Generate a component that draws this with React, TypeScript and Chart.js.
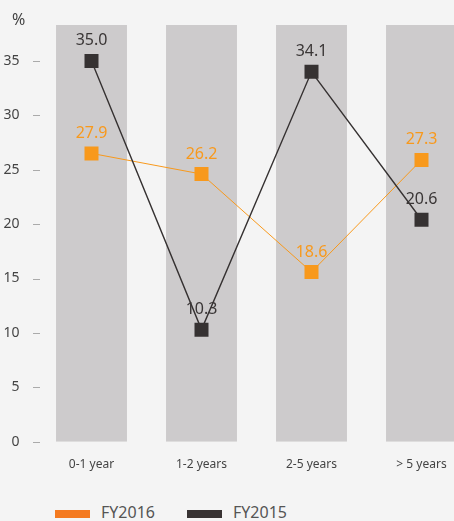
import React, { useEffect, useRef } from "react";
import { Chart, registerables } from "chart.js";

Chart.register(...registerables);

const categories = ["0-1 year", "1-2 years", "2-5 years", "> 5 years"];
const fy2016Values = [26.5, 24.6, 15.6, 25.9];
const fy2016Labels = ["27.9", "26.2", "18.6", "27.3"];
const fy2015Values = [35.0, 10.3, 34.0, 20.4];
const fy2015Labels = ["35.0", "10.3", "34.1", "20.6"];
const axisMax = 38.3;
const columnValues = [38.3, 38.3, 38.3, 38.3];

const FONT = "'Noto Sans', 'DejaVu Sans', sans-serif";
const ORANGE = "#f8991c";
const DARK = "#363232";

const pointLabelsPlugin = {
  id: "pointLabels",
  afterDatasetsDraw(chart: any) {
    const ctx = chart.ctx;
    chart.data.datasets.forEach((ds: any, i: number) => {
      if (!ds.valueLabels) return;
      const meta = chart.getDatasetMeta(i);
      ctx.save();
      ctx.font = `16px ${FONT}`;
      ctx.fillStyle = ds.labelColor;
      ctx.textAlign = "center";
      ctx.textBaseline = "middle";
      meta.data.forEach((pt: any, j: number) => {
        ctx.fillText(ds.valueLabels[j], pt.x, pt.y - 20);
      });
      ctx.restore();
    });
  },
};

const tickMarksPlugin = {
  id: "tickMarks",
  beforeDatasetsDraw(chart: any) {
    const ctx = chart.ctx;
    const y = chart.scales.y;
    ctx.save();
    ctx.strokeStyle = "#aaaaaa";
    ctx.lineWidth = 1;
    y.ticks.forEach((t: any) => {
      const py = Math.round(y.getPixelForValue(t.value)) + 0.5;
      ctx.beginPath();
      ctx.moveTo(33, py);
      ctx.lineTo(40, py);
      ctx.stroke();
    });
    ctx.restore();
  },
};

export default function App() {
  const ref = useRef<HTMLCanvasElement>(null);
  useEffect(() => {
    if (!ref.current) return;
    const chart = new Chart(ref.current, {
      type: "bar",
      data: {
        labels: categories,
        datasets: [
          {
            type: "line",
            label: "FY2015",
            data: fy2015Values,
            borderColor: DARK,
            backgroundColor: DARK,
            borderWidth: 1.4,
            pointStyle: "rect",
            pointRadius: 9.9,
            pointBorderWidth: 0,
            pointBackgroundColor: DARK,
            tension: 0,
            order: 1,
            valueLabels: fy2015Labels,
            labelColor: "#3a3636",
          } as any,
          {
            type: "line",
            label: "FY2016",
            data: fy2016Values,
            borderColor: ORANGE,
            backgroundColor: ORANGE,
            borderWidth: 1,
            pointStyle: "rect",
            pointRadius: 9.9,
            pointBorderWidth: 0,
            pointBackgroundColor: ORANGE,
            tension: 0,
            order: 2,
            valueLabels: fy2016Labels,
            labelColor: ORANGE,
          } as any,
          {
            type: "bar",
            label: "columns",
            data: columnValues,
            backgroundColor: "#cdcbcc",
            borderWidth: 0,
            categoryPercentage: 0.645,
            barPercentage: 1,
            order: 3,
          },
        ],
      },
      options: {
        animation: false,
        responsive: false,
        layout: { autoPadding: false, padding: { top: 25, left: 0, right: 3.5, bottom: 0 } },
        plugins: { legend: { display: false }, tooltip: { enabled: false } },
        scales: {
          x: {
            offset: true,
            grid: { display: false },
            border: { display: false },
            ticks: {
              color: "#444444",
              font: { family: FONT, size: 12 },
              padding: 8,
              maxRotation: 0,
            },
            afterFit(scale: any) {
              scale.height = 40.3;
              scale.paddingLeft = 0;
              scale.paddingRight = 0;
            },
          },
          y: {
            min: 0,
            max: axisMax,
            grid: { display: false },
            border: { display: false },
            ticks: {
              stepSize: 5,
              color: "#444444",
              font: { family: FONT, size: 14 },
              padding: 9,
            },
            afterBuildTicks(scale: any) {
              scale.ticks = scale.ticks.filter((t: any) => t.value % 5 === 0);
            },
            afterFit(scale: any) {
              scale.width = 36.5;
              scale.paddingTop = 0;
              scale.paddingBottom = 0;
            },
          },
        },
      },
      plugins: [pointLabelsPlugin, tickMarksPlugin],
    });
    return () => chart.destroy();
  }, []);

  const legendText: React.CSSProperties = {
    position: "absolute",
    top: 503.8,
    fontFamily: FONT,
    fontSize: 16,
    lineHeight: "16px",
    color: "#555555",
    whiteSpace: "nowrap",
  };

  return (
    <div
      style={{
        position: "absolute",
        left: 0,
        top: 0,
        width: 454,
        height: 521,
        overflow: "hidden",
        background: "#f4f4f4",
      }}
    >
      <canvas
        ref={ref}
        width={480}
        height={482}
        style={{ position: "absolute", left: 0, top: 0, width: 480, height: 482 }}
      />
      <div
        style={{
          position: "absolute",
          left: 12,
          top: 10.5,
          fontFamily: FONT,
          fontSize: 16,
          lineHeight: "16px",
          color: "#444444",
        }}
      >
        %
      </div>
      <div style={{ position: "absolute", left: 55, top: 510, width: 35, height: 8, background: "#f47a20" }} />
      <div style={{ ...legendText, left: 101 }}>FY2016</div>
      <div style={{ position: "absolute", left: 187, top: 510, width: 35, height: 8, background: "#383333" }} />
      <div style={{ ...legendText, left: 233 }}>FY2015</div>
    </div>
  );
}
